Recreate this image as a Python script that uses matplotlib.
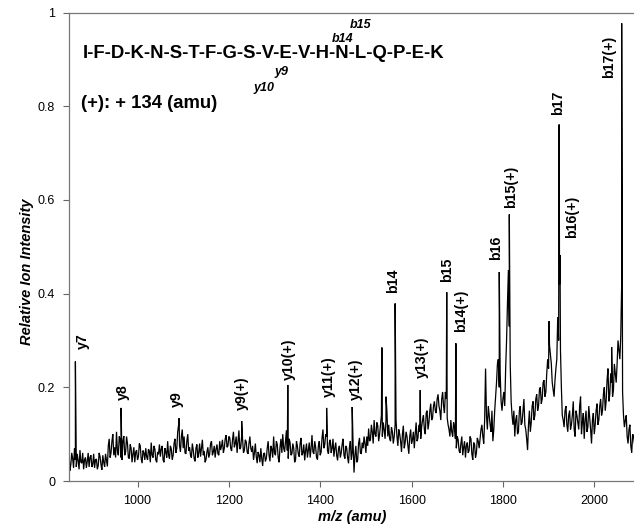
import numpy as np
import matplotlib
matplotlib.use("Agg")
import matplotlib.pyplot as plt

plt.rcParams['font.family'] = ['Liberation Sans', 'DejaVu Sans']

# ---------------- data ----------------
# baseline spectrum read on a 4-amu grid starting at 850 (per-mille intensity)
grid_start = 850
grid_step = 4
baseline_permille = [
    62, 35, 48, 70, 30, 44, 66, 38, 25, 50, 42, 30, 55, 36, 28, 47, 33, 52, 24, 40, 58, 31, 90, 60, 100,
    72, 105, 55, 88, 45, 96, 62, 80, 48, 70, 58, 40, 66, 52, 75, 38, 60, 70, 45, 64, 82, 50, 68, 40, 57,
    52, 75, 40, 62, 85, 48, 68, 55, 90, 70, 120, 62, 110, 95, 58, 100, 72, 50, 66, 42, 78, 60, 52, 88, 64,
    46, 72, 58, 85, 62, 50, 78, 55, 66, 88, 70, 98, 75, 92, 64, 105, 80, 60, 108, 72, 90, 66, 84, 58, 95,
    62, 45, 80, 38, 55, 70, 32, 60, 48, 85, 42, 68, 95, 55, 78, 40, 90, 100, 62, 108, 48, 82, 58, 70, 45,
    75, 52, 92, 60, 44, 80, 66, 50, 98, 58, 72, 46, 85, 62, 110, 78, 95, 58, 88, 70, 52, 82, 44, 75, 60,
    90, 48, 70, 38, 85, 62, 18, 75, 45, 92, 58, 70, 80, 95, 112, 88, 105, 130, 95, 118, 100, 140, 125, 90, 150,
    120, 85, 105, 95, 130, 75, 100, 62, 118, 82, 95, 58, 110, 88, 70, 125, 92, 105, 115, 140, 100, 150, 125, 165, 135,
    170, 145, 185, 150, 175, 160, 190, 135, 110, 130, 95, 115, 70, 88, 60, 95, 72, 50, 82, 65, 90, 45, 78, 60, 85,
    90, 120, 80, 240, 110, 140, 105, 85, 150, 210, 260, 230, 150, 190, 240, 380, 330, 170, 120, 95, 140, 105, 160, 125, 175,
    110, 66, 150, 125, 170, 140, 185, 160, 200, 175, 215, 190, 260, 290, 250, 195, 215, 260, 300, 280, 140, 115, 160, 105, 150,
    120, 170, 95, 140, 110, 180, 125, 90, 150, 115, 135, 80, 145, 120, 165, 130, 175, 150, 200, 170, 240, 185, 210, 195, 230,
    250, 280, 310, 190, 115, 140, 80, 120, 60, 95,
]
# intermediate readings half-way between grid points (852, 856, ...)
baseline_mid_permille = [
    22, 60, 28, 45, 58, 25, 40, 60, 45, 28, 60, 50, 30, 58, 45, 25, 60, 35, 55, 30, 45, 75, 50, 85, 55,
    50, 65, 95, 50, 85, 55, 95, 50, 78, 40, 72, 62, 45, 80, 48, 65, 45, 52, 68, 40, 55, 75, 45, 62, 78,
    68, 45, 70, 50, 55, 75, 45, 80, 60, 105, 75, 95, 70, 60, 85, 65, 55, 80, 48, 70, 50, 80, 70, 55, 40,
    62, 50, 80, 55, 75, 68, 58, 85, 75, 60, 90, 72, 95, 70, 88, 72, 95, 85, 68, 96, 60, 88, 62, 80, 70,
    75, 60, 52, 62, 40, 48, 58, 42, 70, 55, 75, 50, 60, 85, 50, 72, 60, 70, 85, 65, 90, 55, 80, 40, 85,
    58, 80, 55, 78, 65, 50, 82, 70, 62, 85, 50, 75, 55, 92, 70, 100, 65, 82, 60, 90, 70, 55, 68, 50, 78,
    55, 75, 50, 72, 45, 78, 55, 40, 80, 60, 82, 95, 60, 75, 85, 120, 80, 100, 125, 85, 120, 95, 110, 130, 95,
    90, 115, 80, 120, 95, 110, 85, 100, 70, 105, 75, 95, 80, 105, 100, 85, 120, 90, 130, 110, 145, 110, 150, 130, 160,
    150, 175, 160, 130, 190, 145, 175, 120, 95, 105, 125, 90, 95, 65, 80, 55, 85, 75, 60, 95, 58, 82, 50, 92, 70,
    110, 95, 130, 140, 160, 120, 150, 110, 180, 250, 200, 170, 175, 160, 300, 450, 250, 140, 150, 130, 100, 150, 120, 150, 120,
    90, 120, 105, 160, 130, 175, 150, 195, 165, 210, 180, 230, 240, 270, 210, 180, 240, 350, 420, 200, 130, 150, 120, 140, 110,
    140, 110, 150, 125, 160, 100, 145, 130, 105, 160, 110, 130, 100, 150, 120, 160, 140, 185, 150, 215, 170, 230, 180, 250, 210,
    300, 260, 420, 140, 130, 95, 110, 75, 100, 80,
]

# fragment peaks
peak_mz = [864, 964, 1091, 1228, 1329, 1414, 1470, 1535, 1544, 1564,
           1619, 1677, 1697, 1792, 1814, 1901, 1923, 1925, 2038, 2060]
peak_int = [0.255, 0.156, 0.134, 0.128, 0.205, 0.156, 0.158, 0.285, 0.18, 0.379,
            0.194, 0.403, 0.294, 0.446, 0.569, 0.341, 0.761, 0.482, 0.286, 0.977]
peak_labels = ['y7', 'y8', 'y9', 'y9(+)', 'y10(+)', 'y11(+)', 'y12(+)', '', '', 'b14',
               'y13(+)', 'b15', 'b14(+)', 'b16', 'b15(+)', '', 'b17', 'b16(+)', '', 'b17(+)']

x_ticks = [1000, 1200, 1400, 1600, 1800, 2000]
y_ticks = [0, 0.2, 0.4, 0.6, 0.8, 1.0]
y_tick_labels = ['0', '0.2', '0.4', '0.6', '0.8', '1']

sequence = 'I-F-D-K-N-S-T-F-G-S-V-E-V-H-N-L-Q-P-E-K'
modification = '(+): + 134 (amu)'

# ---------------- layout / style ----------------
label_offsets = [(7, 13), (2, 8), (-2, 11), (0, 11), (1, 5), (2, 11), (4, 7), (0, 0), (0, 0), (-2, 10),
                 (2, 12), (0, 10), (5, 11), (-3, 12), (2, 6), (0, 0), (-1, 9), (12, 17), (0, 0), (-13, -55)]

W, H = 634, 529
fig = plt.figure(figsize=(W / 100, H / 100), dpi=100)
ax_left, ax_right, ax_bottom, ax_top = 69, 634, 481, 12.5
ax = fig.add_axes([ax_left / W, 1 - ax_bottom / H, (ax_right - ax_left) / W, (ax_bottom - ax_top) / H])

base = np.array(baseline_permille) / 1000.0
mid = np.array(baseline_mid_permille) / 1000.0
grid = grid_start + grid_step * np.arange(len(base))
grid_mid = grid_start + grid_step / 2 + grid_step * np.arange(len(mid))
mz_all = np.concatenate([grid, grid_mid, np.array(peak_mz, float)])
int_all = np.concatenate([base, mid, np.array(peak_int)])
order = np.argsort(mz_all, kind='stable')
ax.plot(mz_all[order], int_all[order], color='black', lw=0.9, solid_joinstyle='miter')

for mz, h, lab, (dx, dy) in zip(peak_mz, peak_int, peak_labels, label_offsets):
    if lab:
        ax.annotate(lab, xy=(mz, h), xytext=(dx, dy), textcoords='offset pixels',
                    rotation=90, ha='center', va='bottom', fontsize=10.2,
                    fontweight='bold', color='black')

ax.set_xlim(850, 2087)
ax.set_ylim(0, 1)
ax.set_xticks(x_ticks)
ax.set_xticklabels([str(t) for t in x_ticks])
ax.set_yticks(y_ticks)
ax.set_yticklabels(y_tick_labels)
ax.tick_params(axis='both', direction='out', length=4, width=0.8, color='#666666',
               labelsize=9, labelcolor='black')
ax.tick_params(axis='y', pad=6)
ax.tick_params(axis='x', pad=6)
for s in ['left', 'bottom', 'top']:
    ax.spines[s].set_color('#777777')
    ax.spines[s].set_linewidth(0.9)
ax.spines['right'].set_visible(False)

ax.set_ylabel('Relative Ion Intensity', fontsize=10.5, fontweight='bold', fontstyle='italic')
ax.yaxis.set_label_coords((34 - ax_left) / (ax_right - ax_left), (ax_bottom - 272) / (ax_bottom - ax_top))
ax.set_xlabel('m/z (amu)', fontsize=10.5, fontweight='bold', fontstyle='italic')
ax.xaxis.set_label_coords((352 - ax_left) / (ax_right - ax_left), (ax_bottom - 510) / (ax_bottom - ax_top))

def ftext(px, py, s, **kw):
    fig.text(px / W, 1 - py / H, s, **kw)

ftext(83, 53, sequence, fontsize=13.3, fontweight='bold', ha='left', va='center')
ftext(81, 103, modification, fontsize=13.3, fontweight='bold', ha='left', va='center')
ftext(281.5, 72.5, 'y9', fontsize=9, fontweight='bold', fontstyle='italic', ha='center', va='center')
ftext(264.5, 87.5, 'y10', fontsize=9, fontweight='bold', fontstyle='italic', ha='center', va='center')
ftext(343, 39.5, 'b14', fontsize=9, fontweight='bold', fontstyle='italic', ha='center', va='center')
ftext(361, 25.5, 'b15', fontsize=9, fontweight='bold', fontstyle='italic', ha='center', va='center')

fig.savefig('out.png', dpi=100)
